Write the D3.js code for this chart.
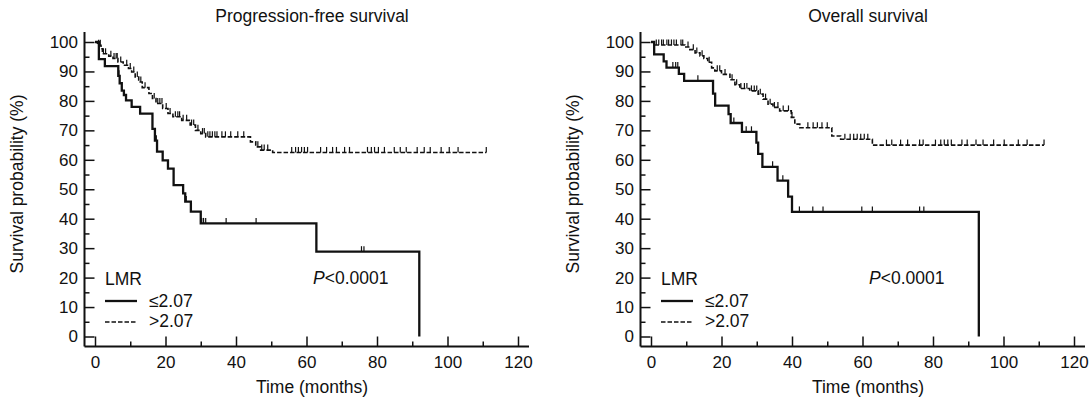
<!DOCTYPE html>
<html>
<head>
<meta charset="utf-8">
<script src="https://cdn.jsdelivr.net/npm/d3@7"></script>
<style>
  body { margin: 0; background: #fff; }
  text { font-family: "Liberation Sans", Arial, sans-serif; fill: #111; }
</style>
</head>
<body>
<script>
// Size of the page
var w = 1092;
var h = 405;

// Axis ticks
var xTicks = [0, 20, 40, 60, 80, 100, 120];
var xMinor = [10, 30, 50, 70, 90, 110];
var yTicks = [0, 10, 20, 30, 40, 50, 60, 70, 80, 90, 100];
var yMinor = [5, 15, 25, 35, 45, 55, 65, 75, 85, 95];

var titles = ["Progression-free survival", "Overall survival"];
var legendTitle = "LMR";
var groups = ["\u22642.07", ">2.07"];
var pText = "<0.0001";

// Progression-free survival, LMR <= 2.07 (solid)
var pfsLowTime = [0, 1.1, 2.8, 6.6, 7.0, 7.6, 8.2, 8.8, 10.4, 12.8, 16.3, 17.0, 17.6, 19.2, 20.7, 22.3, 25.0, 25.6, 27.2, 30.0, 62.8, 92.0];
var pfsLowSurv = [100, 94.2, 91.8, 88.5, 86.0, 83.5, 82.0, 80.2, 78.0, 75.7, 70.5, 66.5, 62.8, 59.8, 57.0, 51.4, 48.6, 45.8, 42.4, 38.4, 28.8, 0];
var pfsLowCens = [6.8, 17.4, 25.9, 30.3, 30.8, 31.4, 37.2, 45.7, 75.6, 76.3];

// Progression-free survival, LMR > 2.07 (dashed)
var pfsHighTime = [0, 0.7, 1.7, 2.1, 3.9, 5.1, 6.5, 8.0, 9.5, 10.4, 11.4, 12.4, 13.4, 15.3, 16.3, 17.3, 19.2, 20.7, 22.1, 24.6, 27.0, 28.5, 30.0, 31.4, 44.1, 45.6, 47.0, 50.4];
var pfsHighSurv = [100, 98.9, 97.7, 96.0, 95.2, 94.4, 93.2, 92.1, 91.0, 89.8, 88.1, 86.4, 84.5, 82.5, 80.8, 79.1, 77.4, 75.7, 74.6, 73.4, 71.8, 70.0, 68.9, 67.8, 66.1, 64.4, 63.3, 62.5];
var pfsHighCens = [1.0, 1.5, 2.4, 3.0, 4.5, 5.4, 6.0, 6.3, 7.3, 9.0, 10.0, 11.0, 12.0, 13.0, 14.2, 16.8, 17.8, 18.4, 19.0, 20.2, 21.3, 22.8, 23.5, 24.0, 25.0, 26.0, 27.4, 28.0, 29.2, 30.5, 31.0, 32.0, 32.6, 33.3, 34.0, 34.6, 36.0, 37.0, 38.5, 40.5, 42.2, 46.2, 47.3, 48.0, 49.0, 55.8, 56.9, 57.7, 58.6, 59.4, 60.3, 64.0, 65.7, 67.4, 68.5, 70.8, 72.2, 77.3, 78.4, 79.3, 80.4, 82.1, 84.9, 86.6, 88.3, 91.4, 93.4, 95.1, 98.2, 100.5, 103.0, 111.0];

// Overall survival, LMR <= 2.07 (solid)
var osLowTime = [0, 0.9, 3.6, 4.4, 7.9, 9.4, 17.6, 18.2, 22.0, 22.6, 25.8, 29.9, 30.4, 31.6, 35.9, 38.9, 40.0, 93.0];
var osLowSurv = [100, 95.8, 93.4, 91.3, 89.2, 86.8, 82.5, 78.4, 75.5, 72.5, 69.5, 65.8, 62.0, 57.6, 52.9, 47.5, 42.3, 0];
var osLowCens = [6.2, 7.0, 7.6, 13.3, 23.5, 27.0, 28.5, 34.5, 37.4, 42.1, 45.9, 48.8, 59.8, 62.8, 76.2, 77.4];

// Overall survival, LMR > 2.07 (dashed)
var osHighTime = [0, 0.8, 9.6, 11.0, 12.5, 13.9, 15.0, 16.1, 17.2, 18.1, 20.0, 22.4, 23.8, 25.2, 28.0, 30.4, 31.8, 33.2, 34.6, 36.5, 39.8, 40.8, 42.2, 51.3, 53.8, 62.8];
var osHighSurv = [100, 99.0, 98.3, 97.4, 96.3, 95.3, 94.4, 93.1, 91.2, 90.2, 89.0, 87.2, 85.5, 84.2, 83.4, 82.3, 80.6, 78.9, 77.8, 76.6, 74.4, 72.1, 70.9, 68.1, 67.0, 65.0];
var osHighCens = [1.5, 2.2, 3.0, 3.5, 4.5, 5.0, 5.8, 6.5, 7.2, 8.5, 9.0, 10.5, 12.0, 13.0, 14.5, 16.5, 18.8, 19.5, 21.0, 23.0, 24.3, 25.5, 26.5, 27.2, 28.5, 29.3, 30.0, 31.0, 32.5, 33.8, 35.0, 36.0, 37.5, 39.0, 40.0, 44.5, 46.0, 47.2, 48.5, 50.0, 55.0, 56.5, 57.5, 58.5, 59.5, 60.5, 61.5, 66.8, 68.3, 70.8, 72.8, 76.2, 77.2, 80.7, 82.2, 83.2, 84.2, 85.2, 88.2, 89.7, 92.2, 94.2, 97.2, 100.2, 104.2, 106.7, 111.5];

var panels = [
  { title: titles[0], left: 0,
    curves: [
      { time: pfsLowTime, surv: pfsLowSurv, cens: pfsLowCens, dash: null, sw: 2.3 },
      { time: pfsHighTime, surv: pfsHighSurv, cens: pfsHighCens, dash: "4.5,2", sw: 1.6 }
    ] },
  { title: titles[1], left: 556,
    curves: [
      { time: osLowTime, surv: osLowSurv, cens: osLowCens, dash: null, sw: 2.3 },
      { time: osHighTime, surv: osHighSurv, cens: osHighCens, dash: "4.5,2", sw: 1.6 }
    ] }
];

var svg = d3.select("body")
            .append("svg")
            .attr("width", w)
            .attr("height", h);

// survival value at time t (step function)
function survAt(c, t) {
  var s = c.surv[0];
  for (var i = 0; i < c.time.length; i++) {
    if (c.time[i] <= t) s = c.surv[i];
  }
  return s;
}

panels.forEach(function(p) {
  var g = svg.append("g").attr("transform", "translate(" + p.left + ",0)");

  var xScale = d3.scaleLinear().domain([0, 120]).range([95, 518]);
  var yScale = d3.scaleLinear().domain([0, 100]).range([336.5, 42]);
  var axisX = 84.5, axisY = 346.5;

  // title
  g.append("text")
   .attr("x", 312).attr("y", 21.5)
   .attr("text-anchor", "middle")
   .attr("font-size", "17.5px")
   .text(p.title);

  // x axis (ticks point up)
  var xAxis = g.append("g")
   .attr("transform", "translate(0," + axisY + ")")
   .call(d3.axisBottom(xScale).tickValues(xTicks).tickSize(-10).tickSizeOuter(0).tickPadding(9));
  xAxis.select(".domain").remove();
  g.append("g")
   .attr("transform", "translate(0," + axisY + ")")
   .call(d3.axisBottom(xScale).tickValues(xMinor).tickSize(-5).tickFormat(""))
   .select(".domain").remove();
  g.append("line")
   .attr("x1", axisX).attr("x2", xScale(120) + 11)
   .attr("y1", axisY).attr("y2", axisY)
   .attr("stroke", "#111").attr("stroke-width", 2);

  // y axis (ticks point right)
  var yAxis = g.append("g")
   .attr("transform", "translate(" + axisX + ",0)")
   .call(d3.axisLeft(yScale).tickValues(yTicks).tickSize(-10).tickSizeOuter(0).tickPadding(6.5));
  yAxis.select(".domain").remove();
  g.append("g")
   .attr("transform", "translate(" + axisX + ",0)")
   .call(d3.axisLeft(yScale).tickValues(yMinor).tickSize(-5).tickFormat(""))
   .select(".domain").remove();
  g.append("line")
   .attr("x1", axisX).attr("x2", axisX)
   .attr("y1", axisY).attr("y2", yScale(100) - 10)
   .attr("stroke", "#111").attr("stroke-width", 2);

  g.selectAll(".tick line").attr("stroke", "#111").attr("stroke-width", 1.5);
  g.selectAll(".tick text")
   .attr("font-size", "17px")
   .attr("font-family", "Liberation Sans, Arial, sans-serif")
   .attr("fill", "#111");

  // axis titles
  g.append("text")
   .attr("x", 312).attr("y", 393)
   .attr("text-anchor", "middle")
   .attr("font-size", "17.5px")
   .text("Time (months)");
  g.append("text")
   .attr("transform", "translate(23,184) rotate(-90)")
   .attr("text-anchor", "middle")
   .attr("font-size", "17.5px")
   .text("Survival probability (%)");

  // curves
  var line = d3.line()
    .x(function(d) { return xScale(d[0]); })
    .y(function(d) { return yScale(d[1]); })
    .curve(d3.curveStepAfter);

  p.curves.forEach(function(c) {
    var pts = c.time.map(function(t, i) { return [t, c.surv[i]]; });
    var lastT = d3.max(c.cens);
    var last = pts[pts.length - 1];
    if (last[1] > 0 && lastT > last[0]) pts.push([lastT, last[1]]);
    g.append("path")
     .attr("d", line(pts))
     .attr("fill", "none")
     .attr("stroke", "#111")
     .attr("stroke-width", c.sw)
     .attr("stroke-dasharray", c.dash);

    g.selectAll(null)
     .data(c.cens)
     .enter()
     .append("line")
     .attr("x1", function(d) { return xScale(d); })
     .attr("x2", function(d) { return xScale(d); })
     .attr("y1", function(d) { return yScale(survAt(c, d)); })
     .attr("y2", function(d) { return yScale(survAt(c, d)) - 5.5; })
     .attr("stroke", "#111")
     .attr("stroke-width", 1.2);
  });

  // legend
  g.append("text").attr("x", 105).attr("y", 285).attr("font-size", "17.5px").text(legendTitle);
  g.append("line").attr("x1", 105).attr("x2", 137).attr("y1", 301).attr("y2", 301)
   .attr("stroke", "#111").attr("stroke-width", 2.3);
  g.append("text").attr("x", 149).attr("y", 307).attr("font-size", "17.5px").text(groups[0]);
  g.append("line").attr("x1", 105).attr("x2", 137).attr("y1", 322).attr("y2", 322)
   .attr("stroke", "#111").attr("stroke-width", 1.6).attr("stroke-dasharray", "4.5,2");
  g.append("text").attr("x", 149).attr("y", 327).attr("font-size", "17.5px").text(groups[1]);

  // p-value
  var pt = g.append("text").attr("x", 313).attr("y", 284).attr("font-size", "17.5px");
  pt.append("tspan").attr("font-style", "italic").text("P");
  pt.append("tspan").text(pText);
});
</script>
</body>
</html>
